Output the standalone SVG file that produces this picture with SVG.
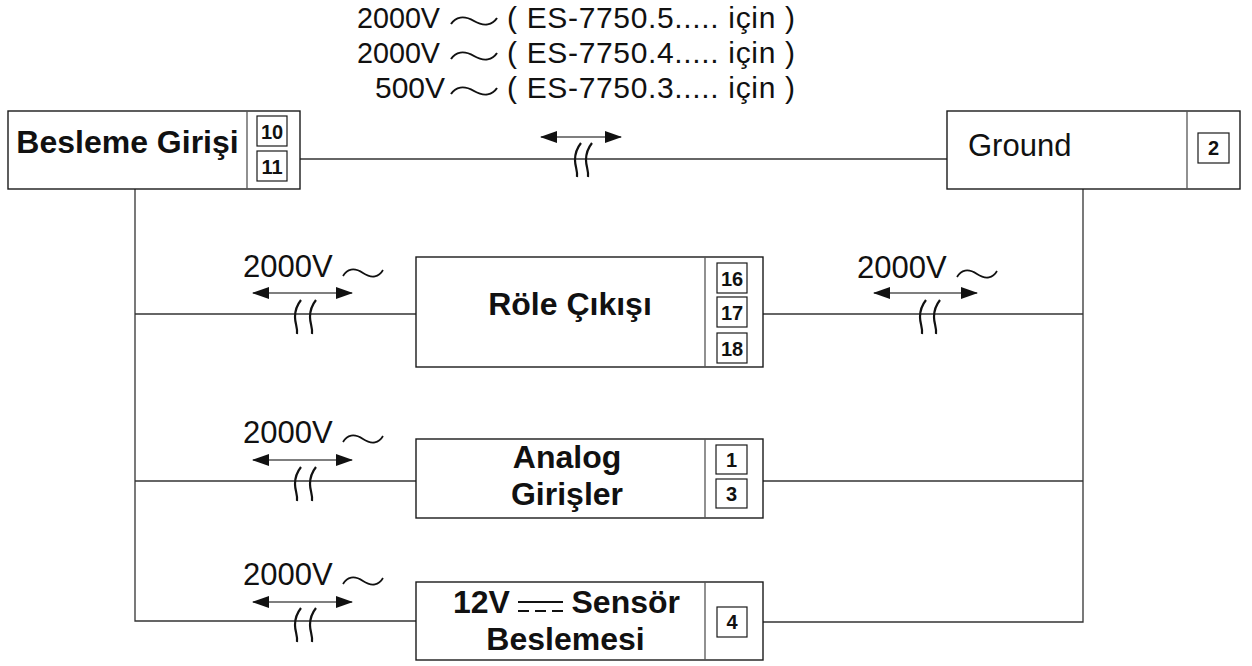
<svg xmlns="http://www.w3.org/2000/svg" width="1252" height="666" viewBox="0 0 1252 666">
<style>
.box{fill:#fff;stroke:#1a1a1a;stroke-width:1.4}
.div{stroke:#555;stroke-width:1.3;fill:none}
.term{fill:#fff;stroke:#1a1a1a;stroke-width:1.2}
.tn{font-family:"Liberation Sans",Arial,sans-serif;font-weight:bold;font-size:20px;text-anchor:middle;fill:#111}
.lbl{font-family:"Liberation Sans",Arial,sans-serif;font-weight:bold;font-size:32px;fill:#111}
.reg{font-family:"Liberation Sans",Arial,sans-serif;font-size:31px;fill:#111}
.top{font-family:"Liberation Sans",Arial,sans-serif;font-size:30px;fill:#111}
.wire{stroke:#333;stroke-width:1.3;fill:none}
.arr{stroke:#555;stroke-width:1.3;fill:none;marker-start:url(#ah);marker-end:url(#ah)}
.brk{stroke:#111;stroke-width:2.2;fill:none}
.ac{stroke:#111;stroke-width:1.7;fill:none}
</style>
<defs>
<marker id="ah" viewBox="0 0 17 12" refX="16" refY="6" markerWidth="17" markerHeight="12" markerUnits="userSpaceOnUse" orient="auto-start-reverse">
<path d="M0,0 L17,6 L0,12 Z" fill="#111"/>
</marker>
<path id="tilde" d="M0,4 C4,-3 11,-5 20,1 C29,7 36,5 40,-2"/>
<path id="brk" d="M5,0 C1,5 -1,11 -1,17 C-1,24 2,28 1,34"/>
</defs>

<g id="connectors">
<line class="wire" x1="300" y1="159" x2="947" y2="159"/>
<polyline class="wire" points="135,189 135,621 416,621"/>
<line class="wire" x1="135" y1="314" x2="416" y2="314"/>
<line class="wire" x1="135" y1="481" x2="416" y2="481"/>
<polyline class="wire" points="1083,189 1083,622 763,622"/>
<line class="wire" x1="763" y1="314" x2="1083" y2="314"/>
<line class="wire" x1="763" y1="481" x2="1083" y2="481"/>
</g>

<g id="label-top">
<text class="top" x="357" y="28" textLength="83" lengthAdjust="spacingAndGlyphs">2000V</text>
<use href="#tilde" class="ac" transform="translate(451,20) scale(1.15,1)"/>
<text class="top" x="507" y="28" textLength="288" lengthAdjust="spacing">( ES-7750.5..... için )</text>
<text class="top" x="357" y="63" textLength="83" lengthAdjust="spacingAndGlyphs">2000V</text>
<use href="#tilde" class="ac" transform="translate(451,55) scale(1.15,1)"/>
<text class="top" x="507" y="63" textLength="288" lengthAdjust="spacing">( ES-7750.4..... için )</text>
<text class="top" x="375" y="98">500V</text>
<use href="#tilde" class="ac" transform="translate(451,90) scale(1.15,1)"/>
<text class="top" x="507" y="98" textLength="288" lengthAdjust="spacing">( ES-7750.3..... için )</text>
<line class="arr" x1="541" y1="137" x2="621" y2="137"/>
<use href="#brk" class="brk" transform="translate(576,143)"/>
<use href="#brk" class="brk" transform="translate(587,143)"/>
</g>

<g id="label-role-left">
<text class="reg" x="243" y="277">2000V</text>
<use href="#tilde" class="ac" transform="translate(343,272)"/>
<line class="arr" x1="253" y1="293" x2="352" y2="293"/>
<use href="#brk" class="brk" transform="translate(296,300)"/>
<use href="#brk" class="brk" transform="translate(311,300)"/>
</g>

<g id="label-role-right">
<text class="reg" x="857" y="278">2000V</text>
<use href="#tilde" class="ac" transform="translate(957,273)"/>
<line class="arr" x1="874" y1="293" x2="977" y2="293"/>
<use href="#brk" class="brk" transform="translate(921,300)"/>
<use href="#brk" class="brk" transform="translate(935,300)"/>
</g>

<g id="label-analog">
<text class="reg" x="243" y="443">2000V</text>
<use href="#tilde" class="ac" transform="translate(343,438)"/>
<line class="arr" x1="253" y1="460" x2="352" y2="460"/>
<use href="#brk" class="brk" transform="translate(296,467)"/>
<use href="#brk" class="brk" transform="translate(311,467)"/>
</g>

<g id="label-sensor">
<text class="reg" x="243" y="585">2000V</text>
<use href="#tilde" class="ac" transform="translate(343,580)"/>
<line class="arr" x1="253" y1="602" x2="352" y2="602"/>
<use href="#brk" class="brk" transform="translate(296,608)"/>
<use href="#brk" class="brk" transform="translate(311,608)"/>
</g>

<g id="besleme-girisi">
<rect class="box" x="8" y="111" width="292" height="78"/>
<line class="div" x1="247" y1="111" x2="247" y2="189"/>
<text class="lbl" x="127.5" y="153" text-anchor="middle">Besleme Girişi</text>
<rect class="term" x="257" y="116" width="30" height="30"/>
<text class="tn" x="272" y="139">10</text>
<rect class="term" x="257" y="151" width="30" height="30"/>
<text class="tn" x="272" y="174">11</text>
</g>

<g id="ground">
<rect class="box" x="947" y="111" width="293" height="78"/>
<line class="div" x1="1187" y1="111" x2="1187" y2="189"/>
<text class="reg" x="968" y="156">Ground</text>
<rect class="term" x="1198" y="133" width="31" height="30"/>
<text class="tn" x="1213.5" y="155">2</text>
</g>

<g id="role-cikisi">
<rect class="box" x="416" y="257" width="347" height="110"/>
<line class="div" x1="705" y1="257" x2="705" y2="367"/>
<text class="lbl" x="570" y="315" text-anchor="middle">Röle Çıkışı</text>
<rect class="term" x="717" y="263" width="30" height="30"/>
<text class="tn" x="732" y="286">16</text>
<rect class="term" x="717" y="297" width="30" height="30"/>
<text class="tn" x="732" y="320">17</text>
<rect class="term" x="717" y="333" width="30" height="30"/>
<text class="tn" x="732" y="356">18</text>
</g>

<g id="analog-girisler">
<rect class="box" x="416" y="439" width="347" height="79"/>
<line class="div" x1="705" y1="439" x2="705" y2="518"/>
<text class="lbl" x="567" y="468" text-anchor="middle">Analog</text>
<text class="lbl" x="567" y="505" text-anchor="middle">Girişler</text>
<rect class="term" x="716" y="445" width="31" height="29"/>
<text class="tn" x="731.5" y="467">1</text>
<rect class="term" x="716" y="479" width="31" height="29"/>
<text class="tn" x="731.5" y="501">3</text>
</g>

<g id="sensor-beslemesi">
<rect class="box" x="416" y="582" width="347" height="78"/>
<line class="div" x1="705" y1="582" x2="705" y2="660"/>
<text class="lbl" x="453" y="613">12V</text>
<line x1="518" y1="602" x2="563" y2="602" stroke="#111" stroke-width="2"/>
<line x1="518" y1="611" x2="563" y2="611" stroke="#111" stroke-width="2" stroke-dasharray="11,6"/>
<text class="lbl" x="680" y="613" text-anchor="end">Sensör</text>
<text class="lbl" x="565.5" y="650" text-anchor="middle">Beslemesi</text>
<rect class="term" x="717" y="607" width="30" height="30"/>
<text class="tn" x="732" y="629">4</text>
</g>
</svg>
